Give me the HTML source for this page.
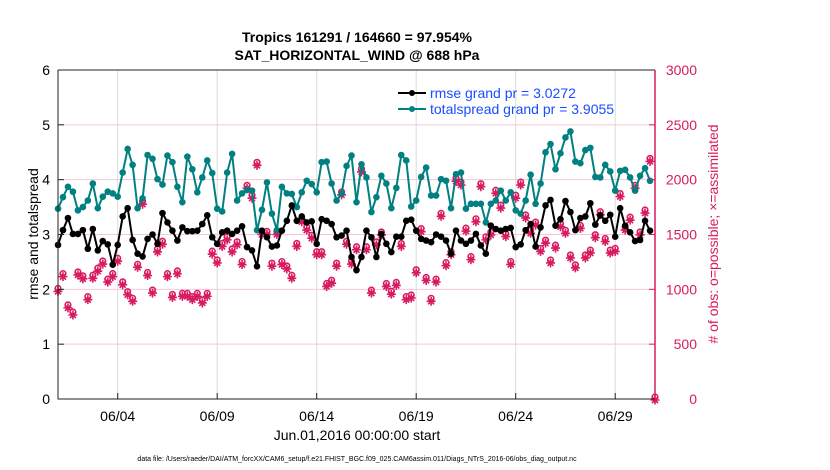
<!DOCTYPE html>
<html><head><meta charset="utf-8"><style>
body{margin:0;background:#fff;}
svg{display:block;font-family:"Liberation Sans",Arial,sans-serif;}
</style></head><body>
<svg id="chart" width="830" height="470" viewBox="0 0 830 470" xmlns="http://www.w3.org/2000/svg">
<rect width="830" height="470" fill="#fff"/>
<text x="357" y="42" font-size="14" font-weight="bold" text-anchor="middle">Tropics 161291 / 164660 = 97.954%</text>
<text x="357" y="60" font-size="14" font-weight="bold" text-anchor="middle">SAT_HORIZONTAL_WIND @ 688 hPa</text>
<g id="grid"></g>
<g id="marks"></g>
<g id="axes"></g>
<text transform="translate(38,234) rotate(-90)" font-size="14" text-anchor="middle">rmse and totalspread</text>
<text transform="translate(718,234) rotate(-90)" font-size="14" fill="#d81b60" text-anchor="middle"># of obs: o=possible; ×=assimilated</text>
<text x="357" y="440" font-size="14" text-anchor="middle">Jun.01,2016 00:00:00 start</text>
<text x="357" y="461" font-size="7" text-anchor="middle">data file: /Users/raeder/DAI/ATM_forcXX/CAM6_setup/f.e21.FHIST_BGC.f09_025.CAM6assim.011/Diags_NTrS_2016-06/obs_diag_output.nc</text>
<g id="legend">
 <line x1="398" y1="93" x2="426" y2="93" stroke="#000" stroke-width="2"/><circle cx="412" cy="93" r="3" fill="#000"/>
 <text x="430" y="98" font-size="14" fill="#1a4cff">rmse grand pr = 3.0272</text>
 <line x1="398" y1="109" x2="426" y2="109" stroke="#008080" stroke-width="2"/><circle cx="412" cy="109" r="3" fill="#008080"/>
 <text x="430" y="114" font-size="14" fill="#1a4cff">totalspread grand pr = 3.9055</text>
</g>
</svg>
<script>
const rmse=[2.81,3.08,3.30,3.01,3.01,3.08,2.74,3.10,2.71,2.88,2.82,2.45,2.81,3.33,3.48,2.90,2.65,2.60,2.92,3.00,2.83,3.39,3.22,3.07,2.89,3.13,3.06,3.06,3.07,3.19,3.35,
2.95,2.83,3.04,3.07,3.01,3.07,3.15,2.77,2.71,2.42,3.07,2.95,2.78,2.80,3.07,3.25,3.53,3.25,3.33,3.22,3.24,2.83,3.28,3.25,3.19,2.95,2.98,3.07,2.59,2.35,
2.59,3.07,2.95,2.59,3.01,2.83,2.68,2.96,2.96,3.25,3.27,3.07,2.92,2.89,2.86,3.00,2.96,2.89,2.65,3.07,2.89,2.83,2.89,3.01,2.80,2.65,3.16,3.10,3.07,
3.10,3.12,2.77,2.82,3.08,3.19,2.78,3.13,3.53,3.63,3.16,3.28,3.61,3.41,3.08,3.30,3.33,3.57,3.18,3.35,3.25,3.36,2.96,3.48,3.16,3.04,2.88,2.90,3.25,3.07];
const spread=[3.47,3.68,3.87,3.78,3.44,3.50,3.62,3.93,3.48,3.69,3.78,3.75,3.69,4.13,4.56,4.27,3.48,3.66,4.45,4.38,4.01,3.91,4.44,4.32,3.87,3.59,4.42,4.19,3.77,4.04,4.35,
4.12,3.47,3.42,4.13,4.47,3.62,3.75,3.81,3.80,3.08,3.45,3.95,3.38,3.08,3.87,3.75,3.74,3.50,3.77,3.98,3.92,3.77,4.32,4.33,3.93,3.62,3.75,4.25,4.44,3.59,
4.28,4.04,3.41,3.68,4.07,3.93,3.48,3.85,4.45,4.35,3.51,3.62,4.05,4.22,3.71,3.71,4.01,3.98,3.48,4.10,4.13,3.47,3.56,3.56,3.56,3.22,3.56,3.62,3.80,
3.62,3.77,3.44,3.38,3.62,4.09,3.56,3.93,4.50,4.65,4.19,4.48,4.77,4.88,4.33,4.30,4.54,4.58,4.05,4.04,4.27,4.15,3.80,4.16,4.18,4.04,3.80,4.07,4.21,3.98];
const obsCount=[990,1125,840,775,1140,1105,915,1110,1175,1240,1075,1125,1265,1050,960,900,1210,1785,1135,975,1350,1420,1125,935,1150,945,945,915,945,885,945,
1330,1250,1400,1460,1350,1415,1235,1930,1840,2140,1510,1510,1220,1510,1235,1195,1110,1400,1625,1550,1475,1325,1325,1035,1065,1220,1870,1420,1240,1370,
2080,1370,975,1415,1505,1035,965,1045,1400,915,930,1160,1535,1090,900,1075,1675,1225,1325,1995,1960,1540,1280,1625,1945,1460,1505,1885,1750,
1490,1235,1840,1960,1660,1520,1595,1355,1430,1250,1385,1580,1520,1295,1205,1565,1295,1340,1480,1690,1445,1340,1355,1855,1550,1640,1930,1505,1705,2175,0];
const xTickDays=[3,8,13,18,23,28];
const xTickLabels=["06/04","06/09","06/14","06/19","06/24","06/29"];
const yTicks=[0,1,2,3,4,5,6];
const rTicks=[0,500,1000,1500,2000,2500,3000];
const stepDays=0.25;

const NS="http://www.w3.org/2000/svg";
const L=58,R=655,T=70,B=399;
const xs=d=>L+d*(R-L)/30;
const yl=v=>B-v*(B-T)/6;
const yr=v=>B-v*(B-T)/3000;
function mk(tag,attrs,parent){const e=document.createElementNS(NS,tag);for(const k in attrs)e.setAttribute(k,attrs[k]);parent.appendChild(e);return e;}
const grid=document.getElementById('grid'),marks=document.getElementById('marks'),axes=document.getElementById('axes');
const PINK="#d81b60";
xTickDays.forEach((d,i)=>{
 const g=mk('line',{x1:xs(d),x2:xs(d),y1:T,y2:B,stroke:'#dcdcdc','stroke-width':1},grid);
 
 
 const t=mk('line',{x1:xs(d),x2:xs(d),y1:B,y2:B-6,stroke:'#222','stroke-width':1},axes);
 
 
 const lb=mk('text',{x:xs(d),y:B+22,'font-size':14,'text-anchor':'middle'},axes);
 lb.textContent=xTickLabels[i];
 
 
});
yTicks.forEach(v=>{
 const g=mk('line',{x1:L,x2:R,y1:yl(v),y2:yl(v),stroke:'#f5c6d6','stroke-width':1},grid);
 
 
 const t=mk('line',{x1:L,x2:L+6,y1:yl(v),y2:yl(v),stroke:'#222'},axes);
 
 
 const lb=mk('text',{x:L-8,y:yl(v)+5,'font-size':14,'text-anchor':'end'},axes);
 lb.textContent=v;
 
 
});
rTicks.forEach(v=>{
 const t=mk('line',{x1:R,x2:R-6,y1:yr(v),y2:yr(v),stroke:PINK},axes);
 
 
 const lb=mk('text',{x:697,y:yr(v)+5,'font-size':14,fill:PINK,'text-anchor':'end'},axes);
 lb.textContent=v;
 
 
});
const frame=mk('path',{d:`M${L},${T}H${R}M${L},${T}V${B}H${R}`,stroke:'#222',fill:'none','stroke-width':1},axes);


const rax=mk('line',{x1:R,x2:R,y1:T,y2:B,stroke:PINK,'stroke-width':1.5},axes);



obsCount.forEach((c,i)=>{
 const x=xs(i*stepDays),y=yr(c);
 const g=mk('g',{stroke:PINK,'stroke-width':1.6,fill:'none'},marks);
 
 
 mk('circle',{cx:x,cy:y-2,r:2.8},g);
 mk('path',{d:`M${x-4.5},${y+1}H${x+4.5}M${x},${y-3.5}V${y+5.5}M${x-3},${y-2}L${x+3},${y+4}M${x-3},${y+4}L${x+3},${y-2}`},g);
});
function series(arr,color,name){
 const pts=arr.map((v,i)=>`${xs(i*stepDays).toFixed(1)},${yl(v).toFixed(1)}`).join(' ');
 const pl=mk('polyline',{points:pts,fill:'none',stroke:color,'stroke-width':2},marks);
 
 
 arr.forEach((v,i)=>{
  const c=mk('circle',{cx:xs(i*stepDays),cy:yl(v),r:3.3,fill:color},marks);
  
  
 });
}
series(spread,'#008080','totalspread');
series(rmse,'#000','rmse');
</script>
</body></html>
